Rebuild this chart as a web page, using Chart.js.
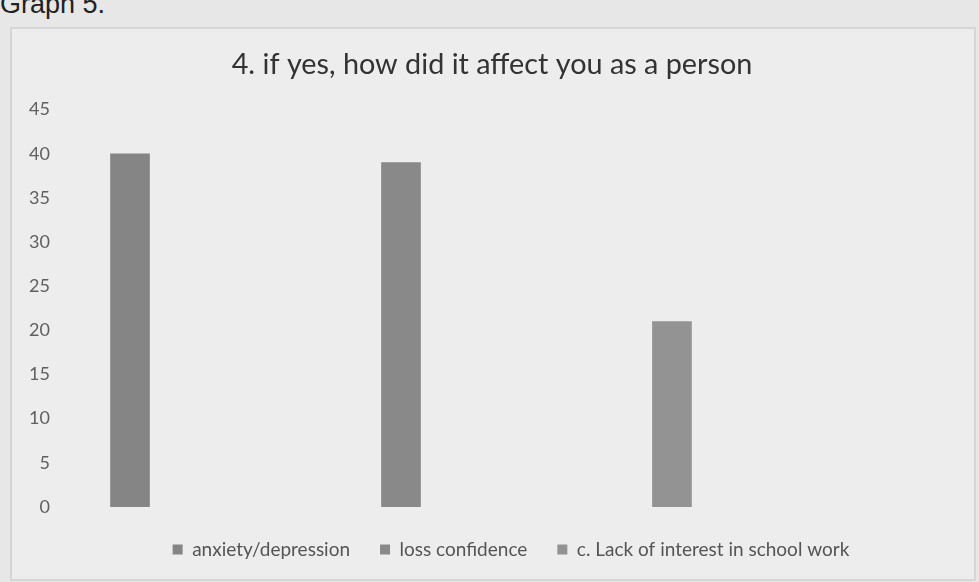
<!DOCTYPE html>
<html>
<head>
<meta charset="utf-8">
<script src="https://cdn.jsdelivr.net/npm/chart.js@4.4.1/dist/chart.umd.min.js"></script>
<style>
  html, body { margin: 0; padding: 0; }
  body { width: 979px; height: 582px; background: #e7e7e7; position: relative; overflow: hidden; }
  #caption { position: absolute; left: 0px; top: -11px; font: 27px "Liberation Sans", Arial, sans-serif; color: #222; }
  #frame { position: absolute; left: 10px; top: 27px; width: 962px; height: 550px; border: 2px solid #d6d6d6; background: #ededed; }
  #wrap { position: absolute; left: 0; top: 0; width: 979px; height: 582px; }
</style>
</head>
<body>
<div id="caption">Graph 5.</div>
<div id="frame"></div>
<div id="wrap"><canvas id="chart"></canvas></div>
<script>
// values
const seriesNames = ['anxiety/depression', 'loss confidence', 'c. Lack of interest in school work'];
const seriesValues = [40, 39, 21];
const seriesPos = [1, 2, 3];
const seriesColors = ['#858585', '#898989', '#939393'];
const yTicks = [0, 5, 10, 15, 20, 25, 30, 35, 40, 45];

const datasets = seriesNames.map((name, i) => ({
  label: name,
  data: [{ x: seriesPos[i], y: seriesValues[i] }],
  backgroundColor: seriesColors[i],
  borderWidth: 0,
  barThickness: 39,
  grouped: false
}));

new Chart(document.getElementById('chart'), {
  type: 'bar',
  data: { datasets },
  options: {
    responsive: true, maintainAspectRatio: false, animation: false,
    layout: { padding: { left: 24, right: 19, top: 0, bottom: 13 } },
    scales: {
      x: {
        type: 'linear', min: 0.749, max: 4.063, offset: false,
        afterFit: s => { s.height = 3; },
        grid: { display: false },
        border: { display: false },
        ticks: { display: false }
      },
      y: {
        min: 0, max: 45,
        afterBuildTicks: s => { s.ticks = yTicks.map(v => ({ value: v })); },
        afterFit: s => { s.width = 38; },
        grid: { display: false },
        border: { display: false },
        ticks: { padding: 4, color: '#606060', font: { family: 'Lato', size: 18 } }
      }
    },
    plugins: {
      title: {
        display: true,
        text: '4. if yes, how did it affect you as a person',
        color: '#333',
        font: { family: 'Lato', size: 28.8, weight: 'normal' },
        padding: { top: 47, bottom: 28 }
      },
      legend: {
        position: 'bottom',
        fullSize: false,
        labels: {
          boxWidth: 10, boxHeight: 10, padding: 30,
          color: '#555',
          font: { family: 'Lato', size: 19 }
        }
      },
      tooltip: { enabled: false }
    }
  }
});
</script>
</body>
</html>
